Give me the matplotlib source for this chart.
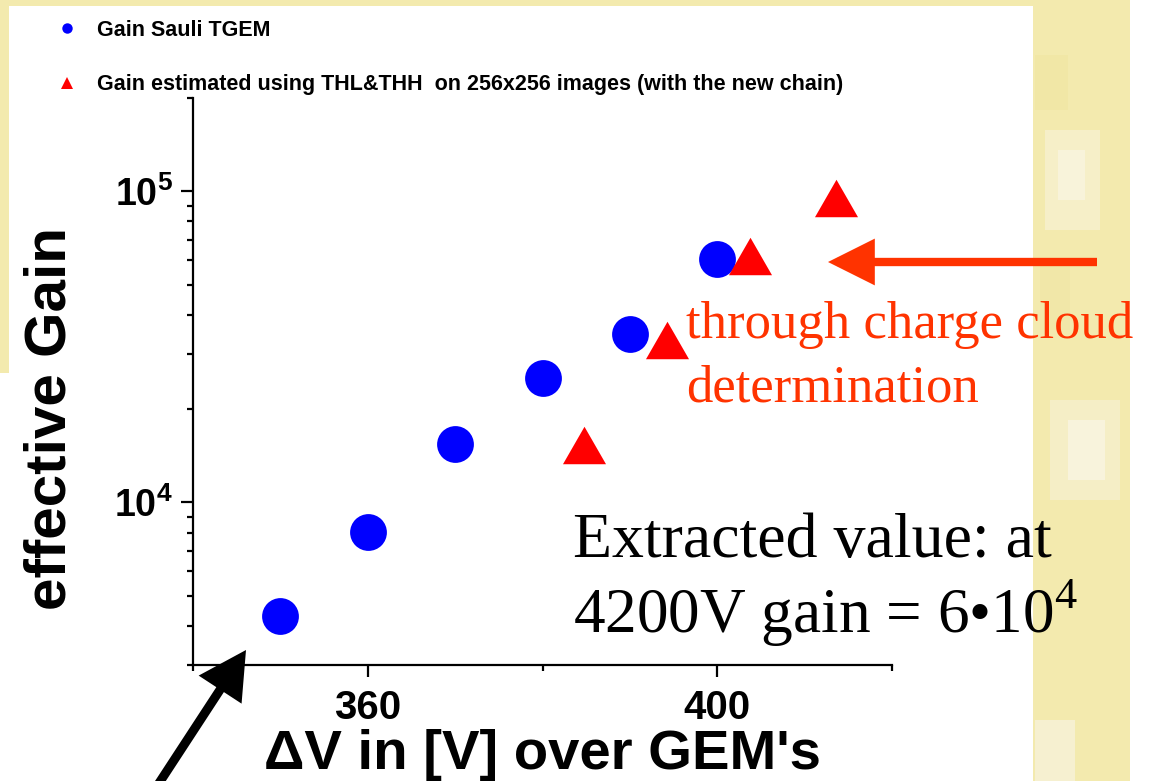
import math
import matplotlib
matplotlib.use("Agg")
import matplotlib.pyplot as plt
from matplotlib.lines import Line2D
from matplotlib.patches import Rectangle, FancyArrowPatch, ArrowStyle
from matplotlib.ticker import FixedLocator, FuncFormatter, NullFormatter

# ---------------- data ----------------
x_sauli = [350, 360, 370, 380, 390, 400]
gain_sauli = [4310, 8020, 15440, 25070, 34750, 60400]
x_thl = [384.7, 394.3, 403.8, 413.6]
gain_thl = [15260, 33300, 61940, 95300]

label_sauli = "Gain Sauli TGEM"
label_thl = "Gain estimated using THL&THH  on 256x256 images (with the new chain)"
x_major = [360, 400]
x_minor = [340, 380, 420]
y_major = [1e4, 1e5]
y_minor = [m * 10 ** e for e in (3, 4, 5) for m in range(2, 10)]

plt.rcParams['font.family'] = ['Liberation Sans', 'DejaVu Sans']
plt.rcParams['mathtext.fontset'] = 'custom'
plt.rcParams['mathtext.rm'] = 'Liberation Serif'
plt.rcParams['mathtext.bf'] = 'Liberation Sans:bold'

W, H = 1150, 781
fig = plt.figure(figsize=(W / 100, H / 100), dpi=100)
fig.patch.set_facecolor('white')

yellow = '#F3EAAE'
def frect(x0, y0, x1, y1, c, z=0):
    fig.add_artist(Rectangle((x0 / W, 1 - y1 / H), (x1 - x0) / W, (y1 - y0) / H,
                             transform=fig.transFigure, facecolor=c, edgecolor='none', zorder=z))

# background decoration (slide texture)
frect(0, 0, 1130, 6, yellow)
frect(0, 0, 9, 373, yellow)
frect(1033, 0, 1130, 781, yellow)
for (a, b, c, d, col) in [(1035, 55, 1068, 110, '#F1E7A6'), (1045, 130, 1100, 230, '#F6EFC8'),
                          (1058, 150, 1085, 200, '#F8F3DA'), (1050, 400, 1120, 500, '#F5EEC6'),
                          (1068, 420, 1105, 480, '#F8F3DC'), (1035, 720, 1075, 781, '#F6F0D0'),
                          (1040, 260, 1070, 330, '#F1E7A8')]:
    frect(a, b, c, d, col, z=0.5)

ax = fig.add_axes([193 / W, 1 - 665 / H, (892 - 193) / W, (665 - 97.7) / H])
ax.set_facecolor('none')
ax.set_zorder(2)

tri = [(0, 0.87), (-1, -0.87), (1, -0.87)]
ax.plot(x_sauli, gain_sauli, linestyle='none', marker='o', ms=26.5, color='#0000FF',
        markeredgewidth=0, label=label_sauli, clip_on=False)
ax.plot(x_thl, gain_thl, linestyle='none', marker=tri, ms=31, color='#FF0000',
        markeredgewidth=0, label=label_thl, clip_on=False)

ax.set_yscale('log')
ax.set_xlim(340, 420)
ax.set_ylim(3000, 2e5)
for s in ('top', 'right'):
    ax.spines[s].set_visible(False)
for s in ('left', 'bottom'):
    ax.spines[s].set_linewidth(1.6)

ax.xaxis.set_major_locator(FixedLocator(x_major))
ax.xaxis.set_minor_locator(FixedLocator(x_minor))
ax.yaxis.set_major_locator(FixedLocator(y_major))
ax.yaxis.set_minor_locator(FixedLocator(y_minor))
ax.yaxis.set_minor_formatter(NullFormatter())
ax.yaxis.set_major_formatter(FuncFormatter(lambda v, p: r'$\mathbf{10^{%d}}$' % round(math.log10(v))))
ax.tick_params(axis='both', which='major', length=8.5, width=1.6, direction='out')
ax.tick_params(axis='both', which='minor', length=4.5, width=1.6, direction='out')
ax.tick_params(axis='x', labelsize=29, pad=9)
ax.tick_params(axis='y', labelsize=27, pad=6)
for lab in ax.get_xticklabels():
    lab.set_fontweight('bold')

ax.set_xlabel("ΔV in [V] over GEM's", fontsize=40.5, fontweight='bold')
ax.xaxis.set_label_coords(542 / W, 1 - 769 / H, transform=fig.transFigure)
ax.xaxis.label.set_va('baseline')
ax.set_ylabel("effective Gain", fontsize=42, fontweight='bold')
ax.yaxis.set_label_coords(66 / W, 1 - 418 / H, transform=fig.transFigure)
ax.yaxis.label.set_va('baseline')

# legend
h1 = Line2D([], [], linestyle='none', marker='o', ms=7.5, color='#0000FF', markeredgewidth=0)
h2 = Line2D([], [], linestyle='none', marker='^', ms=8, color='#FF0000', markeredgewidth=0)
leg = ax.legend([h1, h2], [label_sauli, label_thl], loc='upper left',
                bbox_to_anchor=(58 / W, 1 - 20 / H), bbox_transform=fig.transFigure,
                frameon=False, borderaxespad=0, borderpad=0, handlelength=0.84,
                handletextpad=0.98, labelspacing=1.55,
                prop={'family': 'Liberation Sans', 'weight': 'bold', 'size': 15.5})

# annotations
red = '#FF3300'
fig.text(686 / W, 1 - 338 / H, "through charge cloud", color=red, fontsize=38,
         family='Liberation Serif', va='baseline', ha='left', zorder=5)
fig.text(686 / W, 1 - 401 / H, "determination", color=red, fontsize=38,
         family='Liberation Serif', va='baseline', ha='left', zorder=5)
fig.text(573 / W, 1 - 557 / H, "Extracted value: at", color='black', fontsize=46,
         family='Liberation Serif', va='baseline', ha='left', zorder=5)
fig.text(573 / W, 1 - 633 / H, "4200V gain = 6•10$^{4}$", color='black', fontsize=45.5,
         family='Liberation Serif', va='baseline', ha='left', zorder=5)

def farrow(p0, p1, color, lw, hl, hw):
    a = FancyArrowPatch((p0[0] / W, 1 - p0[1] / H), (p1[0] / W, 1 - p1[1] / H),
                        transform=fig.transFigure,
                        arrowstyle=ArrowStyle('-|>', head_length=hl, head_width=hw),
                        mutation_scale=1, color=color, lw=lw, shrinkA=0, shrinkB=0,
                        joinstyle='miter', capstyle='butt', zorder=6)
    fig.add_artist(a)

farrow((1097, 262), (828, 262), red, 6, 24, 12)
farrow((148, 800), (246, 650), 'black', 6.5, 24, 13)

fig.savefig('out.png', dpi=100, facecolor=fig.get_facecolor())
